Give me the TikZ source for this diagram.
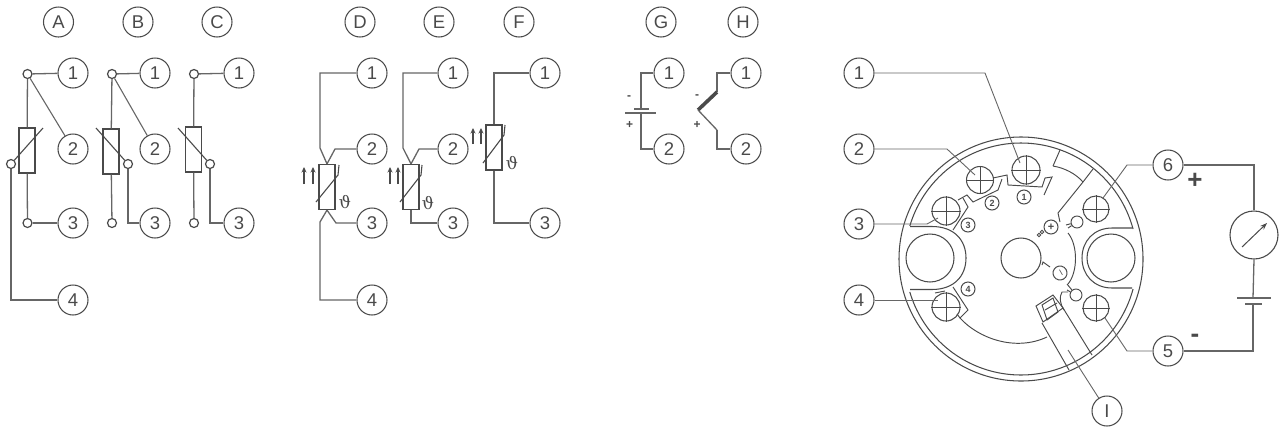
\documentclass[tikz,border=0pt]{standalone}
\usepackage{fontspec}
\setmainfont{Liberation Sans}
\newfontfamily\thfont{DejaVu Serif}
\usetikzlibrary{arrows.meta}
\definecolor{ink}{HTML}{4A4A4A}
\definecolor{wire}{HTML}{666666}
\tikzset{
  num/.style={circle,draw=ink,line width=1.05pt,minimum size=30pt,inner sep=0pt,text=ink,font=\fontsize{18.5}{18.5}\selectfont},
  term/.style={circle,draw=ink,line width=1.2pt,minimum size=9pt,inner sep=0pt},
  res/.style={rectangle,draw=ink,line width=1.2pt,minimum width=16pt,minimum height=45pt,inner sep=0pt},
  wr/.style={draw=wire,line width=1.3pt},
  slash/.style={draw=ink,line width=1.1pt},
  ln/.style={draw=ink,line width=0.95pt},
  leader/.style={draw=wire,line width=0.9pt},
  screw/.style={circle,draw=ink,line width=1.05pt,inner sep=0pt},
  smallnum/.style={circle,draw=ink,line width=1pt,minimum size=14pt,inner sep=0pt,text=ink,font=\bfseries\fontsize{9}{9}\selectfont},
  hole/.style={circle,draw=ink,line width=1.05pt,inner sep=0pt},
  up/.style={draw=ink,line width=1.1pt,-{Stealth[length=5.5pt,width=5pt]}},
  sign/.style={inner sep=0pt,text=ink,font=\bfseries\fontsize{12}{12}\selectfont},
  bigsign/.style={inner sep=0pt,text=ink,font=\bfseries\fontsize{26}{26}\selectfont},
  theta/.style={inner sep=0pt,text=ink,font=\thfont\fontsize{17}{17}\selectfont}
}
\newcommand{\screwat}[4]{%
  \node[screw,minimum size=#4pt] (#1) at (#2,#3) {};
  \draw[ln] (#1.north)--(#1.south) (#1.west)--(#1.east);}
\begin{document}
\begin{tikzpicture}[x=1pt,y=-1pt]
\useasboundingbox (0,0) rectangle (1280,429);
% A
\node[num] (A) at (58.5,22) {A};
\node[num] (a1) at (73,73) {1};
\node[num] (a2) at (73,149) {2};
\node[num] (a3) at (73,223) {3};
\node[num] (a4) at (73,300) {4};
\node[term] (ta1) at (27.5,74) {};
\node[term] (ta3) at (27.5,223) {};
\node[term] (ta4) at (11,164) {};
\node[res] (ra) at (27,150.5) {};
\draw[wr] (ta1)--(a1);
\draw[wr] (ta1)--(ra);
\draw[wr] (ra)--(ta3);
\draw[wr] (ta3)--(a3);
\draw[wr] (ta4)|-(a4);
\draw[leader,line width=1.1pt] (ta1)--(a2);
\draw[slash] (ta4)--(43,128);
% B
\node[num] (B) at (138,22) {B};
\node[num] (b1) at (155,73) {1};
\node[num] (b2) at (155,149) {2};
\node[num] (b3) at (155,223) {3};
\node[term] (tb1) at (112,74) {};
\node[term] (tb3) at (112,223) {};
\node[term] (tb4) at (128,164) {};
\node[res] (rb) at (111,151.5) {};
\draw[wr] (tb1)--(b1);
\draw[wr] (tb1)--(rb);
\draw[wr] (rb)--(tb3);
\draw[wr] (tb4)|-(b3);
\draw[leader,line width=1.1pt] (tb1)--(b2);
\draw[slash] (96,128)--(tb4);
% C
\node[num] (C) at (217,22) {C};
\node[num] (c1) at (239,73) {1};
\node[num] (c3) at (239,223) {3};
\node[term] (tc1) at (194,74) {};
\node[term] (tc3) at (194,223) {};
\node[term] (tc4) at (210,164) {};
\node[res] (rc) at (193.5,149.5) {};
\draw[wr] (tc1)--(c1);
\draw[wr] (tc1)--(rc);
\draw[wr] (rc)--(tc3);
\draw[wr] (tc4)|-(c3);
\draw[slash] (178,128)--(tc4);
% D
\node[num] (D) at (360,22) {D};
\node[num] (d1) at (372,73) {1};
\node[num] (d2) at (372,149) {2};
\node[num] (d3) at (372,223) {3};
\node[num] (d4) at (372,300) {4};
\node[res] (rd) at (327,187) {};
\draw[wr] (d1)-|(320,148)--(rd.north);
\draw[wr] (d2)-|(335,149)--(rd.north);
\draw[wr] (d3)-|(336,223)--(rd.south);
\draw[wr] (d4)-|(320,222)--(rd.south);
\draw[slash] (316,202)--(338,175)--(339,165);
\node[theta] (thd) at (345,202) {ϑ};
\draw[up] (304,184)--(304,167);
\draw[up] (313,184)--(313,167);
% E
\node[num] (E) at (439,22) {E};
\node[num] (e1) at (453,73) {1};
\node[num] (e2) at (453,149) {2};
\node[num] (e3) at (453,223) {3};
\node[res] (re) at (411,187) {};
\draw[wr] (e1)-|(403,148)--(re.north);
\draw[wr] (e2)-|(419,149)--(re.north);
\draw[wr] (re.south)|-(e3);
\draw[slash] (400,202)--(421,175)--(422,165);
\node[theta] (the) at (428,203) {ϑ};
\draw[up] (390,184)--(390,167);
\draw[up] (398,184)--(398,167);
% F
\node[num] (F) at (519,22) {F};
\node[num] (f1) at (545,73) {1};
\node[num] (f3) at (545,223) {3};
\node[res] (rf) at (494,147.5) {};
\draw[wr] (f1)-|(rf.north);
\draw[wr] (rf.south)|-(f3);
\draw[slash] (483,163)--(504,135)--(505,125);
\node[theta] (thf) at (512,163) {ϑ};
\draw[up] (473,144)--(473,128);
\draw[up] (481,144)--(481,128);
% G
\node[num] (G) at (661,22) {G};
\node[num] (g1) at (669,73) {1};
\node[num] (g2) at (669,149) {2};
\coordinate (gs) at (641,109);
\coordinate (gl) at (641,113);
\draw[wr] (g1)-|(gs);
\draw[wr] (gl)|-(g2);
\draw[wr] (634,109)--(649,109);
\draw[wr] (625,113)--(656,113);
\node[sign] (gm) at (629,98) {-};
\node[sign] (gp) at (629.5,125) {+};
% H
\node[num] (H) at (743,22) {H};
\node[num] (h1) at (746,73) {1};
\node[num] (h2) at (746,149) {2};
\coordinate (ha) at (717,92);
\coordinate (hb) at (698,110);
\coordinate (hc) at (717,130);
\draw[wr] (h1)-|(ha);
\draw[draw=ink,line width=3.6pt] (ha)--(hb);
\draw[wr] (hb)--(hc);
\draw[wr] (hc)|-(h2);
\node[sign] (hm) at (697,97) {-};
\node[sign] (hp) at (697,125) {+};
% head
\node[circle,draw=ink,line width=1.05pt,minimum size=244pt,inner sep=0pt] (outer) at (1021,259) {};
\draw[ln,line width=1.05pt] plot[domain=196.6:345,samples=80] ({1021+116*cos(\x)},{259+116*sin(\x)});
\draw[ln,line width=1.05pt] plot[domain=15:163.5,samples=80] ({1021+116*cos(\x)},{259+116*sin(\x)});
% slots
\node[hole,minimum size=48pt] (hl) at (930,258) {};
\node[hole,minimum size=48pt] (hr) at (1111,258) {};
\node[hole,minimum size=40pt] (hm2) at (1021,258) {};
\draw[ln,line width=1.05pt] (910,226.5)--(932,226.5) .. controls (954,226.5) and (966,240) .. (966,258) .. controls (966,276) and (954,289.5) .. (932,289.5) -- (910,289.5);
\draw[ln,line width=1.05pt] (1132,228)--(1112,228) .. controls (1094,228) and (1082,241) .. (1082,258) .. controls (1082,275) and (1094,288) .. (1112,288) -- (1132,288);
% screws
\screwat{s1}{1026}{170}{28}
\screwat{s2}{980}{180}{27}
\screwat{s3}{946}{211}{28}
\screwat{s4}{946}{307}{28}
\screwat{s6}{1096}{209}{26}
\screwat{s5}{1096}{308}{26}
% small numbers
\node[smallnum] (n1) at (1024,197) {1};
\node[smallnum] (n2) at (992,203) {2};
\node[smallnum] (n3) at (968,225) {3};
\node[smallnum] (n4) at (968,289) {4};
\node[smallnum,font=\bfseries\fontsize{11}{11}\selectfont] (np) at (1051,227) {+};
\node[smallnum,rotate=-60,font=\fontsize{11}{11}\selectfont] (nm) at (1060,273) {–};
% board outline
\draw[ln] (958,200)--(967,195)--(973,202)--(998,190)--(1002,179);
\draw[ln] (993,178)--(1007,175)--(1008,185)--(1042,187)--(1045,178)--(1052,177)--(1044,195);
\draw[ln] (963,198)--(968,207)--(953,230);
\draw[ln] (953,287)--(968,310)--(960,318)--(957,314);
\draw[ln] (935,293)--(945,291);
\draw[ln] (960,318) .. controls (978,338) and (1015,352) .. (1047,337);
\draw[ln] (1060,150)--(1053,166);
\draw[ln] (1053,166) .. controls (1065,168) and (1076,174) .. (1083,182);
\draw[ln] (1093,169)--(1083,182)--(1058,213)--(1060,222);
% contact heads
\node[circle,draw=ink,line width=0.95pt,minimum size=12pt,inner sep=0pt] (cu) at (1077,222) {};
\node[circle,draw=ink,line width=0.95pt,minimum size=12pt,inner sep=0pt] (cl) at (1076,295) {};
\draw[ln] (cu)--(1066,225);
\draw[ln] (1068,228)--(cu);
\draw[ln] (1068,233) .. controls (1078,245) and (1078,272) .. (1068,284);
\draw[ln] (1067,290)--(cl);
\draw[ln] (1067,284)--(cl);
\draw[ln] (1068,292)--(1062,292) .. controls (1059,297) and (1060,304) .. (1064,310);
% mark and tick
\node[circle,draw=ink,line width=0.8pt,minimum size=3.5pt,inner sep=0pt] (m1) at (1039,235) {};
\node[circle,draw=ink,line width=0.8pt,minimum size=3.5pt,inner sep=0pt] (m2) at (1042,232) {};
\draw[ln] (1042,265)--(1043,262)--(1050,267);
% sensor
\draw[ln] (1036,306)--(1053,295)--(1063,308)--(1043,322)--cycle;
\draw[ln] (1042,305)--(1053,298)--(1058,312)--(1047,320)--cycle;
\draw[ln] (1045,310)--(1057,303);
\draw[ln] (1042,323)--(1069,370);
\draw[ln] (1063,308)--(1092,355);
% leaders
\node[num] (r1) at (859,73) {1};
\node[num] (r2) at (859,149) {2};
\node[num] (r3) at (859,224) {3};
\node[num] (r4) at (859,300) {4};
\node[num] (r6) at (1168,165) {6};
\node[num] (r5) at (1168,351) {5};
\node[num] (rI) at (1107,411) {I};
\coordinate (e1t) at (1020,163);
\coordinate (e2t) at (975,175);
\coordinate (e3t) at (938,218);
\coordinate (e4t) at (938,300);
\coordinate (e6t) at (1103,198);
\coordinate (e5t) at (1105,318);
\coordinate (eIt) at (1068,350);
\draw[leader] (r1)--(985,73)--(e1t);
\draw[leader] (r2)--(947,149)--(e2t);
\draw[leader] (r3)--(927,224)--(e3t);
\draw[leader] (r4)--(e4t);
\draw[leader] (r6)--(1127,165)--(e6t);
\draw[leader] (r5)--(1127,351)--(e5t);
\draw[leader] (rI)--(eIt);
% loop
\node[circle,draw=ink,line width=1.1pt,minimum size=48pt,inner sep=0pt] (meter) at (1254,235) {};
\coordinate (bt) at (1253,298);
\coordinate (bb) at (1253,304);
\draw[wr] (r6)-|(meter.north);
\draw[wr] (meter.south)--(bt);
\draw[wr] (bb)|-(r5);
\draw[wr] (1237,298)--(1271,298);
\draw[wr] (1245,304)--(1262,304);
\draw[draw=ink,line width=1pt,-{Stealth[length=7pt,width=5pt]}] (1242,247)--(1267,223);
\node[bigsign] (pl) at (1195,181) {+};
\node[bigsign] (mi) at (1195,338) {-};
\end{tikzpicture}
\end{document}
